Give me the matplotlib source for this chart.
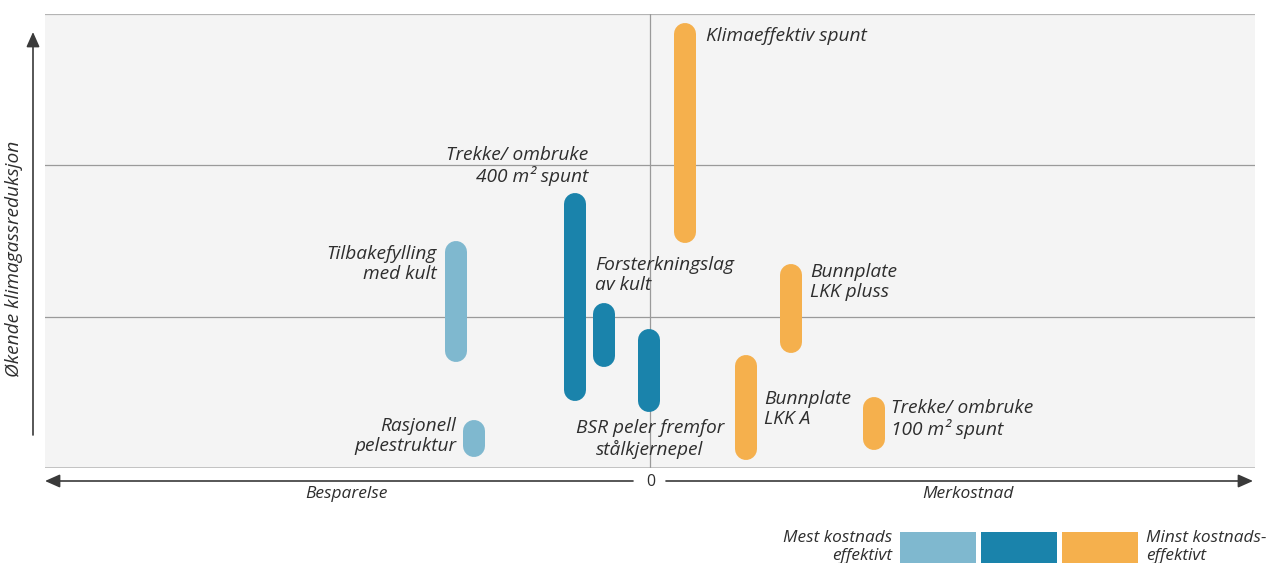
import matplotlib
matplotlib.use("Agg")
import matplotlib.pyplot as plt
from matplotlib.patches import FancyArrowPatch, Rectangle

plt.rcParams['font.family'] = ['Open Sans', 'DejaVu Sans']

# ---- data (x: cost, negative = savings; y: increasing climate-gas reduction) ----
measures = ["Tilbakefylling\nmed kult", "Rasjonell\npelestruktur", "Trekke/ ombruke\n400 m² spunt",
            "Forsterkningslag\nav kult", "BSR peler fremfor\nstålkjernepel", "Klimaeffektiv spunt",
            "Bunnplate\nLKK A", "Bunnplate\nLKK pluss", "Trekke/ ombruke\n100 m² spunt"]
cost = [-3.21, -2.91, -1.24, -0.76, -0.02, 0.58, 1.59, 2.33, 3.70]
red_low = [0.70, 0.07, 0.44, 0.67, 0.37, 1.49, 0.05, 0.76, 0.12]
red_high = [1.50, 0.32, 1.82, 1.09, 0.92, 2.94, 0.75, 1.35, 0.47]
group = [0, 0, 1, 1, 1, 2, 2, 2, 2]
legend_colors = ["#7FB8CF", "#1A83AB", "#F5B04D"]

W, H = 1272, 563
fig = plt.figure(figsize=(W / 100, H / 100), dpi=100)
ax = fig.add_axes([45 / W, (H - 468) / H, 1210 / W, 454 / H])
ax.set_xlim(-10, 10)
ax.set_ylim(0, 3)
ax.set_facecolor("#F4F4F4")
for s in ax.spines.values():
    s.set_visible(False)
ax.set_xticks([])
ax.set_yticks([])
for yv in [1, 2]:
    ax.axhline(yv, color="#9A9A9A", lw=0.9, zorder=1)
ax.axhline(3, color="#B4B4B4", lw=1.6, zorder=1)
ax.axhline(0, color="#B4B4B4", lw=1.8, zorder=1)
ax.axvline(0, color="#9A9A9A", lw=0.9, zorder=1)

# capsule bars
lw_px = 22
r_data = (lw_px / 2) * 3 / 454
for c, lo, hi, g in zip(cost, red_low, red_high, group):
    ax.plot([c, c], [lo + r_data, hi - r_data], color=legend_colors[g], lw=lw_px * 0.72,
            solid_capstyle="round", zorder=3)

txtc = "#2E2E2E"
fs = 13.8

def px2data(px, py):
    return (px - 650) / 60.5, (468 - py) / (454 / 3)

labels = [
    (measures[0], 437, 264, "right"),
    (measures[1], 456, 436, "right"),
    (measures[2], 588, 166, "right"),
    (measures[3], 595, 275, "left"),
    (measures[4], 650, 439, "center"),
    (measures[5], 706, 36, "left"),
    (measures[6], 764, 409, "left"),
    (measures[7], 810, 282, "left"),
    (measures[8], 891, 419, "left"),
]
for text, px, py, ha in labels:
    x, y = px2data(px, py)
    ax.text(x, y, text, ha=ha, va="center", fontsize=fs, style="italic", color=txtc,
            linespacing=1.17, zorder=4, multialignment=ha)

def fx(px):
    return px / W

def fy(py):
    return 1 - py / H

arrow_style = "-|>,head_length=4.5,head_width=2"
# y-axis arrow
fig.add_artist(FancyArrowPatch((fx(33), fy(435)), (fx(33), fy(32)), transform=fig.transFigure,
                               arrowstyle=arrow_style, lw=1.2, color="#3A3A3A",
                               mutation_scale=2, shrinkA=0, shrinkB=0))
fig.text(fx(14), fy(259), "Økende klimagassreduksjon", rotation=90, ha="center", va="center",
         fontsize=13.8, style="italic", color=txtc)

# x-axis arrows
fig.add_artist(FancyArrowPatch((fx(633), fy(481)), (fx(45), fy(481)), transform=fig.transFigure,
                               arrowstyle=arrow_style, lw=1.2, color="#3A3A3A",
                               mutation_scale=2, shrinkA=0, shrinkB=0))
fig.add_artist(FancyArrowPatch((fx(666), fy(481)), (fx(1253), fy(481)), transform=fig.transFigure,
                               arrowstyle=arrow_style, lw=1.2, color="#3A3A3A",
                               mutation_scale=2, shrinkA=0, shrinkB=0))
fig.text(fx(651), fy(482), "0", ha="center", va="center", fontsize=11.5, color=txtc)
fig.text(fx(346), fy(494), "Besparelse", ha="center", va="center", fontsize=12.5, style="italic", color=txtc)
fig.text(fx(968), fy(494), "Merkostnad", ha="center", va="center", fontsize=12.5, style="italic", color=txtc)

# legend
for i, col in enumerate(legend_colors):
    x0 = 900 + i * 81
    fig.add_artist(Rectangle((fx(x0), fy(563)), 76 / W, 31 / H, transform=fig.transFigure,
                             facecolor=col, edgecolor="none"))
fig.text(fx(892), fy(547), "Mest kostnads\neffektivt", ha="right", va="center", fontsize=12.4,
         style="italic", color=txtc, linespacing=1.12, multialignment="right")
fig.text(fx(1146), fy(547), "Minst kostnads-\neffektivt", ha="left", va="center", fontsize=12.4,
         style="italic", color=txtc, linespacing=1.12, multialignment="left")

fig.savefig("out.png", dpi=100, facecolor="white")
